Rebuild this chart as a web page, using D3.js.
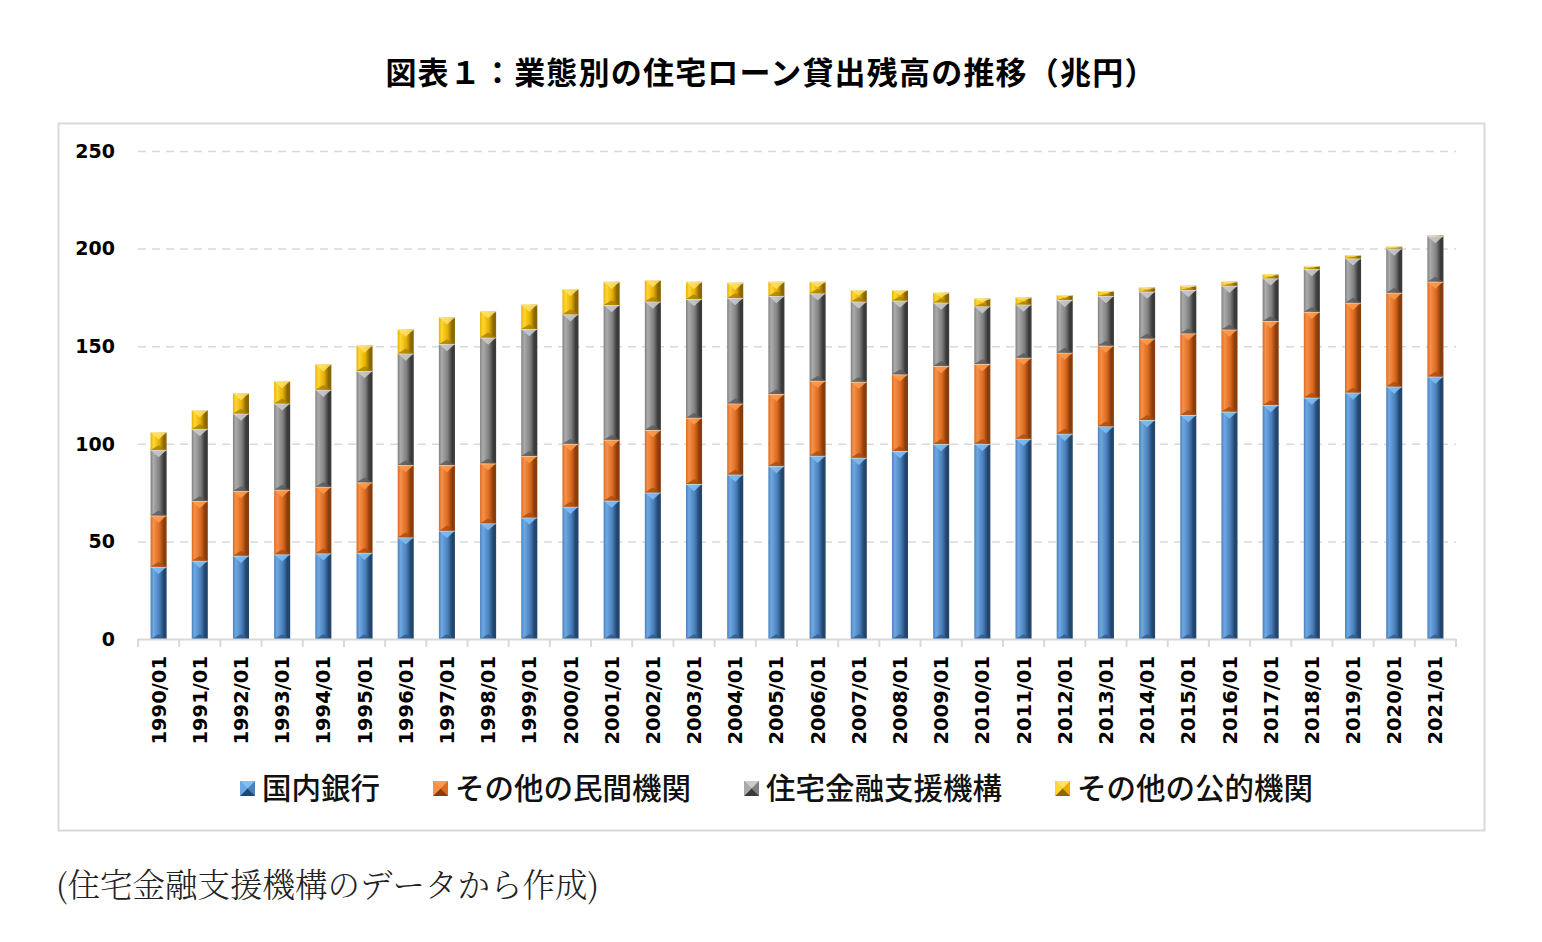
<!DOCTYPE html>
<html lang="ja">
<head>
<meta charset="UTF-8">
<title>業態別の住宅ローン貸出残高の推移</title>
<script src="https://cdn.jsdelivr.net/npm/d3@7"></script>
<style>
  body { margin: 0; background: #fff; }
  .grid line { stroke: #d9d9d9; stroke-width: 1.5; stroke-dasharray: 8,6; }
  .grid path { display: none; }
  .ylab text { font-family: "DejaVu Sans", Verdana, sans-serif; font-weight: bold; font-size: 19px; fill: #000; }
  .xlab text { font-family: "DejaVu Sans", Verdana, sans-serif; font-weight: bold; font-size: 19.5px; fill: #000; }
</style>
</head>
<body>
<script>
// 年次ラベル
var years = ["1990/01","1991/01","1992/01","1993/01","1994/01","1995/01","1996/01","1997/01",
             "1998/01","1999/01","2000/01","2001/01","2002/01","2003/01","2004/01","2005/01",
             "2006/01","2007/01","2008/01","2009/01","2010/01","2011/01","2012/01","2013/01",
             "2014/01","2015/01","2016/01","2017/01","2018/01","2019/01","2020/01","2021/01"];

// 各業態の残高（兆円）
var domesticBanks = [37.0,40.1,42.7,43.4,43.9,44.2,52.1,55.5,59.3,62.3,67.8,70.9,75.1,79.4,84.3,88.6,
                     93.9,92.9,96.3,99.9,100.0,102.6,105.2,109.0,112.2,114.8,116.5,119.9,123.7,126.3,129.4,134.5];
var otherPrivate  = [26.3,30.6,33.1,33.1,34.1,36.1,37.0,33.6,30.7,31.5,32.2,31.2,32.0,34.0,36.4,36.9,
                     38.4,38.9,39.3,40.0,40.9,41.5,41.5,41.3,41.8,41.8,42.1,43.0,43.9,46.0,48.0,48.6];
var jhf           = [33.5,36.9,39.7,44.2,49.7,57.0,57.2,62.0,64.5,65.0,66.4,69.0,65.8,60.8,54.0,50.2,
                     44.8,41.1,37.8,32.5,29.6,27.3,27.0,25.4,24.0,22.2,22.4,21.9,21.9,22.7,22.7,23.3];
var otherPublic   = [9.1,9.7,10.4,11.5,13.0,13.1,12.3,13.7,13.4,12.5,12.9,11.9,11.0,8.8,7.8,7.3,
                     5.9,5.9,5.4,5.0,3.9,3.6,2.5,2.6,2.1,2.2,2.1,2.0,1.6,1.7,0.9,0.5];

var seriesNames = ["国内銀行","その他の民間機関","住宅金融支援機構","その他の公的機関"];
var yTicks = [0,50,100,150,200,250];

var width = 1542, height = 942;
var margin = {top: 151, right: 86, bottom: 303, left: 138};

var svg = d3.select("body").append("svg")
    .attr("width", width)
    .attr("height", height);

svg.append("rect").attr("width", width).attr("height", height).attr("fill", "#fff");

// 色（明・基本・暗・三角ハイライト）
var palette = [
  {light: "#6ea8e2", base: "#4a80bb", dark: "#23466f", tip: "#80c0f5", low: "#2e5a8a"},
  {light: "#f5914a", base: "#dc6a1f", dark: "#8a3d0c", tip: "#ff9c4c", low: "#a84c12"},
  {light: "#ababab", base: "#808080", dark: "#3a3a3a", tip: "#cccccc", low: "#5a5a5a"},
  {light: "#ffd633", base: "#e5b000", dark: "#8a6700", tip: "#ffe266", low: "#a87f00"}
];

var defs = svg.append("defs");
palette.forEach(function(p, i){
  var g = defs.append("linearGradient").attr("id", "grad" + i)
      .attr("x1", "0").attr("x2", "1").attr("y1", "0").attr("y2", "0");
  g.append("stop").attr("offset", "0").attr("stop-color", p.base);
  g.append("stop").attr("offset", "0.18").attr("stop-color", p.light);
  g.append("stop").attr("offset", "0.55").attr("stop-color", p.base);
  g.append("stop").attr("offset", "0.82").attr("stop-color", p.dark);
  g.append("stop").attr("offset", "1").attr("stop-color", p.dark);
});

// 枠
svg.append("rect")
    .attr("x", 58.5).attr("y", 123.5)
    .attr("width", 1426).attr("height", 707)
    .attr("fill", "none")
    .attr("stroke", "#d9d9d9")
    .attr("stroke-width", 2);

// タイトル
svg.append("text")
    .attr("x", 771).attr("y", 84)
    .attr("text-anchor", "middle")
    .style("font-family", "'Noto Sans CJK JP', sans-serif")
    .style("font-weight", "bold")
    .style("font-size", "31px")
    .style("letter-spacing", "1.2px")
    .text("図表１：業態別の住宅ローン貸出残高の推移（兆円）");

// 比例尺
var xScale = d3.scaleBand()
    .domain(years)
    .range([margin.left, width - margin.right])
    .paddingInner(0.61)
    .paddingOuter(0.305);

var yScale = d3.scaleLinear()
    .domain([0, 250])
    .range([height - margin.bottom, margin.top]);

// 目盛り線
svg.append("g")
    .attr("class", "grid")
    .attr("transform", "translate(" + margin.left + ",0)")
    .call(d3.axisLeft(yScale).tickValues(yTicks.slice(1))
        .tickSize(-(width - margin.left - margin.right)).tickFormat(""));

// Y軸ラベル
svg.append("g")
    .attr("class", "ylab")
    .selectAll("text")
    .data(yTicks)
    .enter()
    .append("text")
    .attr("x", 115)
    .attr("y", function(d){ return yScale(d); })
    .attr("dy", "0.36em")
    .attr("text-anchor", "end")
    .text(function(d){ return d; });

// 積み上げ
var table = years.map(function(y, i){
  return {year: y, s0: domesticBanks[i], s1: otherPrivate[i], s2: jhf[i], s3: otherPublic[i]};
});
var stacked = d3.stack().keys(["s0","s1","s2","s3"])(table);

var bw = xScale.bandwidth();
var layers = svg.selectAll(".layer")
    .data(stacked)
    .enter()
    .append("g")
    .attr("class", "layer");

layers.selectAll("rect")
    .data(function(d){ return d; })
    .enter()
    .append("rect")
    .attr("x", function(d){ return xScale(d.data.year); })
    .attr("y", function(d){ return yScale(d[1]); })
    .attr("width", bw)
    .attr("height", function(d){ return yScale(d[0]) - yScale(d[1]); })
    .attr("fill", function(d){ return "url(#grad" + d3.select(this.parentNode).datum().index + ")"; });

// 面取りの三角（上は明るく、下は暗く）
layers.each(function(layer){
  var p = palette[layer.index];
  var g = d3.select(this);
  g.selectAll(".tip")
    .data(layer)
    .enter()
    .append("path")
    .attr("fill", p.tip)
    .attr("opacity", 0.85)
    .attr("d", function(d){
      var x0 = xScale(d.data.year), y0 = yScale(d[1]);
      var h = Math.min(bw * 0.45, (yScale(d[0]) - y0) * 0.5);
      return "M" + x0 + "," + y0 + "L" + (x0 + bw) + "," + y0 + "L" + (x0 + bw / 2) + "," + (y0 + h) + "Z";
    });
  g.selectAll(".low")
    .data(layer)
    .enter()
    .append("path")
    .attr("fill", p.low)
    .attr("opacity", 0.8)
    .attr("d", function(d){
      var x0 = xScale(d.data.year), y1 = yScale(d[0]);
      var h = Math.min(bw * 0.3, (y1 - yScale(d[1])) * 0.4);
      return "M" + x0 + "," + y1 + "L" + (x0 + bw) + "," + y1 + "L" + (x0 + bw / 2) + "," + (y1 - h) + "Z";
    });
  g.selectAll(".sep")
    .data(layer)
    .enter()
    .append("line")
    .attr("x1", function(d){ return xScale(d.data.year); })
    .attr("x2", function(d){ return xScale(d.data.year) + bw; })
    .attr("y1", function(d){ return yScale(d[1]) + 0.5; })
    .attr("y2", function(d){ return yScale(d[1]) + 0.5; })
    .attr("stroke", "#f2e6d0")
    .attr("stroke-opacity", 0.6)
    .attr("stroke-width", 1);
});

// X軸
var x0 = margin.left, x1 = width - margin.right, yb = yScale(0);
svg.append("line")
    .attr("x1", x0).attr("x2", x1).attr("y1", yb + 0.5).attr("y2", yb + 0.5)
    .attr("stroke", "#d9d9d9").attr("stroke-width", 2);

var step = xScale.step();
svg.selectAll(".xtick")
    .data(d3.range(years.length + 1))
    .enter()
    .append("line")
    .attr("x1", function(i){ return x0 + i * step; })
    .attr("x2", function(i){ return x0 + i * step; })
    .attr("y1", yb).attr("y2", yb + 8)
    .attr("stroke", "#d9d9d9").attr("stroke-width", 2);

svg.append("g")
    .attr("class", "xlab")
    .selectAll("text")
    .data(years)
    .enter()
    .append("text")
    .attr("transform", function(d){
      return "translate(" + (xScale(d) + bw / 2) + "," + 656 + ") rotate(-90)";
    })
    .attr("dy", "0.36em")
    .attr("text-anchor", "end")
    .text(function(d){ return d; });

// 凡例
var legend = svg.append("g").attr("class", "legend");
var lx = 240;
seriesNames.forEach(function(name, i){
  var p = palette[i];
  var item = legend.append("g").attr("transform", "translate(" + lx + ",781)");
  item.append("rect").attr("width", 15).attr("height", 15).attr("fill", p.base);
  item.append("path").attr("d", "M0,0L15,0L7.5,7.5Z").attr("fill", p.tip);
  item.append("path").attr("d", "M0,15L15,15L7.5,7.5Z").attr("fill", p.dark);
  item.append("path").attr("d", "M0,0L7.5,7.5L0,15Z").attr("fill", p.light);
  var t = item.append("text")
      .attr("x", 22).attr("y", 18)
      .style("font-family", "'Noto Sans CJK JP', sans-serif")
      .style("font-weight", "500")
      .style("font-size", "29.5px")
      .attr("fill", "#111")
      .text(name);
  lx += 22 + t.node().getComputedTextLength() + 53;
});

// 出典
svg.append("text")
    .attr("x", 56).attr("y", 897)
    .style("font-family", "'Noto Serif CJK JP', 'Noto Sans CJK JP', serif")
    .style("font-weight", "300")
    .style("font-size", "32.5px")
    .attr("fill", "#222")
    .text("(住宅金融支援機構のデータから作成)");
</script>
</body>
</html>
